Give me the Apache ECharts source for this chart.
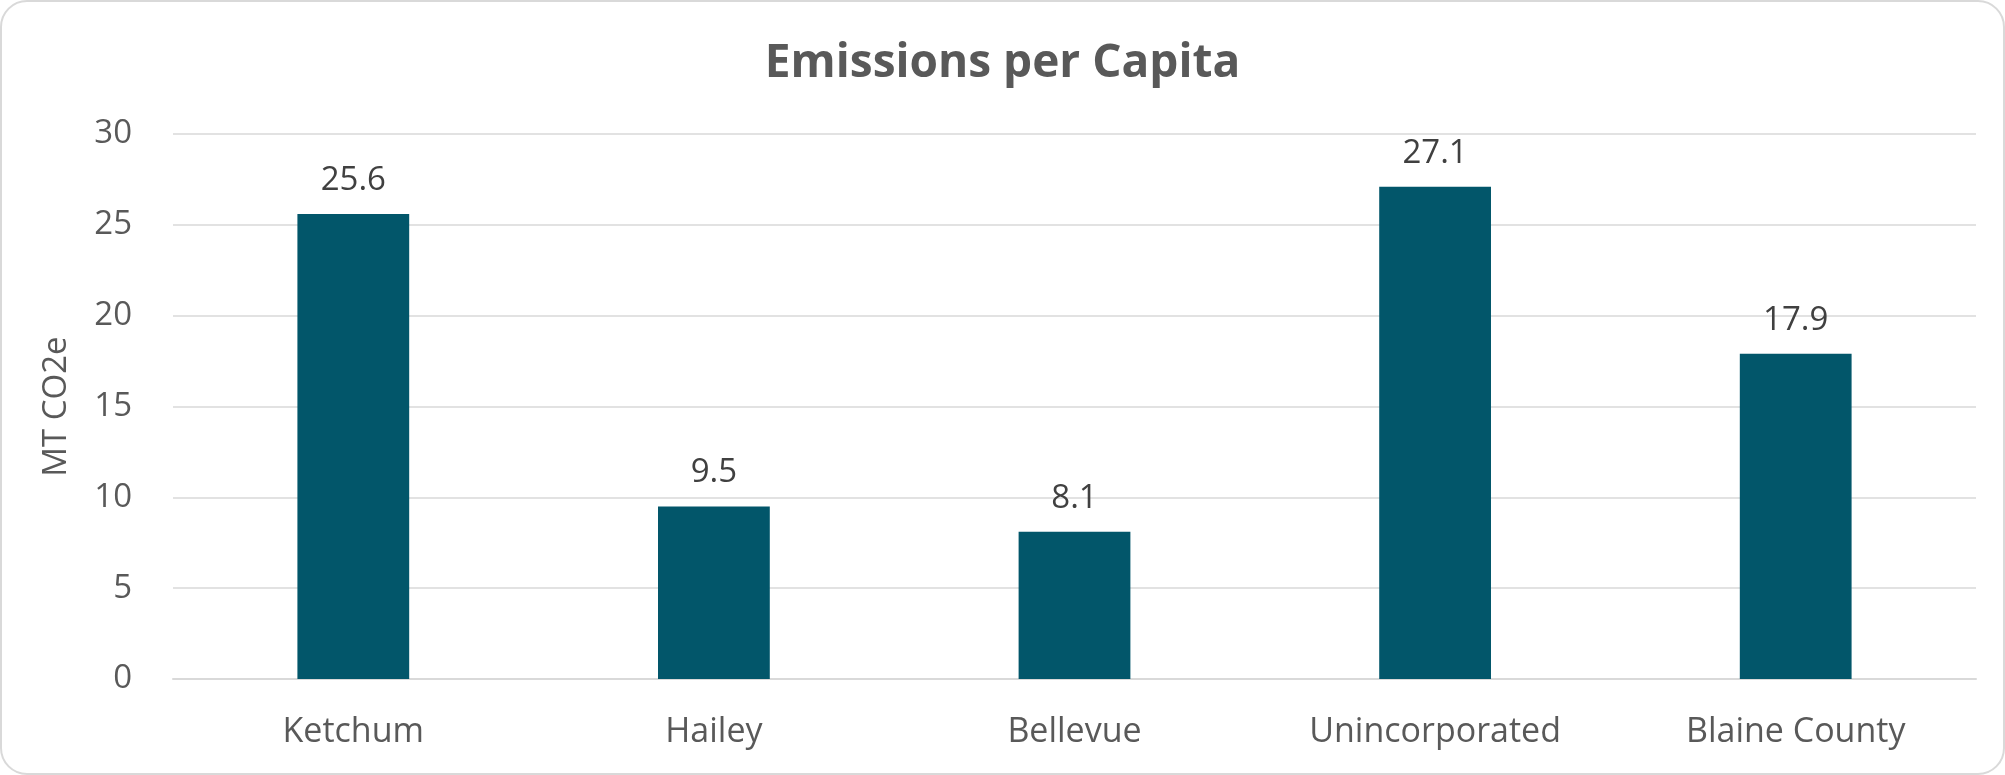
<!DOCTYPE html>
<html>
<head>
<meta charset="utf-8">
<script src="https://cdn.jsdelivr.net/npm/echarts@6/dist/echarts.min.js"></script>
<style>
html,body{margin:0;padding:0;background:#fff;}
#chart{width:2005px;height:775px;}
</style>
</head>
<body>
<div id="chart"></div>
<script>
const categories = ['Ketchum', 'Hailey', 'Bellevue', 'Unincorporated', 'Blaine County'];
const values = [25.6, 9.5, 8.1, 27.1, 17.9];
const yTicks = { min: 0, max: 30, interval: 5 };

const FONT = '"Open Sans", "Noto Sans", sans-serif';
const chart = echarts.init(document.getElementById('chart'), null, { renderer: 'canvas' });
chart.setOption({
  animation: false,
  backgroundColor: '#ffffff',
  title: {
    text: 'Emissions per Capita',
    left: 'center',
    top: 36,
    textStyle: { fontFamily: FONT, fontWeight: 'bold', fontSize: 46, color: '#595959' }
  },
  graphic: [{
    type: 'rect',
    shape: { x: 1, y: 1, width: 2003, height: 773, r: 26 },
    style: { fill: 'none', stroke: '#d9d9d9', lineWidth: 2 },
    silent: true, z: -1
  }],
  grid: { left: 173, right: 29, top: 134, bottom: 96, containLabel: false },
  xAxis: {
    type: 'category',
    data: categories,
    axisLine: { show: true, lineStyle: { color: '#d9d9d9', width: 2 } },
    axisTick: { show: false },
    axisLabel: { fontFamily: FONT, fontSize: 34, color: '#595959', margin: 36 }
  },
  yAxis: {
    type: 'value',
    min: yTicks.min, max: yTicks.max, interval: yTicks.interval,
    name: 'MT CO2e',
    nameLocation: 'middle',
    nameRotate: 90,
    nameGap: 100,
    nameTextStyle: { fontFamily: FONT, fontSize: 33, color: '#595959' },
    axisLine: { show: false },
    axisTick: { show: false },
    splitLine: { lineStyle: { color: '#d9d9d9', width: 1.5 } },
    axisLabel: { fontFamily: FONT, fontSize: 33, color: '#595959', margin: 41 }
  },
  series: [{
    type: 'bar',
    data: values,
    barWidth: '31%',
    itemStyle: { color: '#02566a' },
    label: {
      show: true, position: 'top', distance: 17,
      fontFamily: FONT, fontSize: 33, color: '#404040',
      formatter: p => p.value.toFixed(1)
    }
  }]
});
</script>
</body>
</html>
